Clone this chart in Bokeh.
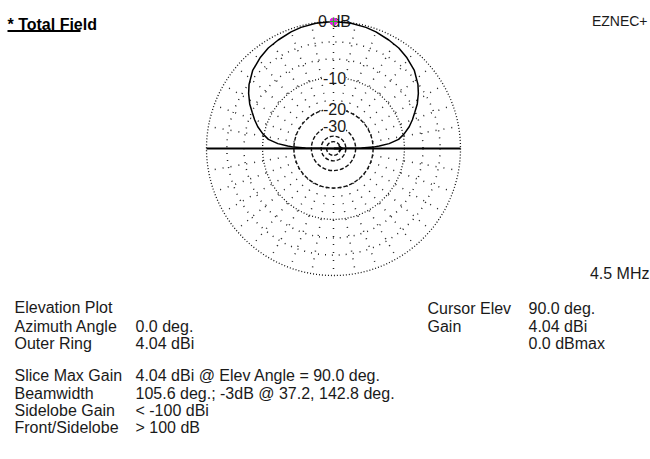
import numpy as np
from bokeh.plotting import figure
from bokeh.models import Range1d
from bokeh.embed import file_html
from bokeh.resources import INLINE
from bokeh.core.properties import value

# ---------------- data ----------------
elev_deg = [0, 1, 2, 3, 5, 8, 12, 16, 20, 24, 28, 33, 37.2, 44, 51, 57, 63, 70, 75, 82, 90,
            98, 105, 110, 117, 123, 129, 136, 142.8, 147, 152, 156, 160, 164, 168, 172, 175, 177, 178, 179, 180]
gain_dbmax = [-99, -26, -20, -17.5, -14.1, -11.3, -9.6, -8.2, -7.1, -6.1, -5.0, -3.9, -3.1, -2.1, -1.45, -1.0, -0.72, -0.4, -0.22, -0.06, 0.0,
              -0.06, -0.22, -0.4, -0.72, -1.0, -1.45, -2.1, -3.1, -3.9, -5.0, -6.1, -7.1, -8.2, -9.6, -11.3, -14.1, -17.5, -20, -26, -99]

ring_db_dotted = [0, -10]
ring_db_sparse = [-3, -6]
ring_db_dashed = [-20, -30, -40, -50]
ring_label_db = [0, -10, -20, -30]
ring_label_text = ["0 dB", "-10", "-20", "-30"]
spoke_deg = list(range(10, 180, 10)) + list(range(190, 360, 10))

cursor_elev = 90.0
cursor_gain_dbmax = 0.0

title_text = "* Total Field"
brand_text = "EZNEC+"
freq_text = "4.5 MHz"

left_labels = ["Elevation Plot", "Azimuth Angle", "Outer Ring",
               "Slice Max Gain", "Beamwidth", "Sidelobe Gain", "Front/Sidelobe"]
left_values = ["", "0.0 deg.", "4.04 dBi",
               "4.04 dBi @ Elev Angle = 90.0 deg.", "105.6 deg.; -3dB @ 37.2, 142.8 deg.",
               "< -100 dBi", "> 100 dB"]
right_labels = ["Cursor Elev", "Gain", ""]
right_values = ["90.0 deg.", "4.04 dBi", "0.0 dBmax"]

# ---------------- layout ----------------
W, H = 650, 459
CX, CY, R = 333, 148, 127
FONT = value("Liberation Sans")
TXT = "#1a1a1a"


def rad_of(db):
    # ARRL log scale: 0.89 per 2 dB
    return R * 0.89 ** (-np.asarray(db, dtype=float) / 2.0)


p = figure(width=W, height=H, x_range=Range1d(0, W), y_range=Range1d(H, 0),
           output_backend="svg", toolbar_location=None, min_border=0,
           x_axis_type=None, y_axis_type=None)
p.grid.visible = False
p.outline_line_color = None
p.background_fill_color = "white"
p.border_fill_color = "white"

# rings
p.circle(x=[CX] * len(ring_db_dotted), y=[CY] * len(ring_db_dotted),
         radius=list(rad_of(ring_db_dotted)), fill_color=None,
         line_color="#111", line_width=1.3, line_dash="1 2")
p.circle(x=[CX] * len(ring_db_sparse), y=[CY] * len(ring_db_sparse),
         radius=list(rad_of(ring_db_sparse)), fill_color=None,
         line_color="#222", line_width=1.5, line_dash="1 6")
p.circle(x=[CX] * len(ring_db_dashed), y=[CY] * len(ring_db_dashed),
         radius=list(rad_of(ring_db_dashed)), fill_color=None,
         line_color="#111", line_width=1.4, line_dash="4 2")

# spokes
r_in = float(rad_of(-20))
sx, sy = [], []
for a in spoke_deg:
    t = np.radians(a)
    sx.append([CX + r_in * np.cos(t), CX + R * np.cos(t)])
    sy.append([CY - r_in * np.sin(t), CY - R * np.sin(t)])
p.multi_line(xs=sx, ys=sy, line_color="#222", line_width=1.5, line_dash="1 7")

# horizon
p.line(x=[CX - R, CX + R], y=[CY, CY], line_color="#000", line_width=2)

# ring labels
lx = [CX + 1] * len(ring_label_db)
ly = [CY - float(rad_of(d)) for d in ring_label_db]
p.text(x=lx, y=ly, text=ring_label_text, text_font=FONT, text_font_size="16px",
       text_align="center", text_baseline="middle", text_color=TXT,
       background_fill_color=[None, "white", "white", "white"])

# pattern
th = np.radians(elev_deg)
rr = rad_of(gain_dbmax)
p.line(x=CX + rr * np.cos(th), y=CY - rr * np.sin(th), line_color="#000", line_width=1.5)

# centre arrow
p.line(x=[CX, CX + 9], y=[CY, CY], line_color="#000", line_width=2)
p.line(x=[CX + 5, CX + 9, CX + 5], y=[CY - 3, CY, CY + 3], line_color="#000", line_width=1.5)

# cursor
ct = np.radians(cursor_elev)
cr = float(rad_of(cursor_gain_dbmax))
p.scatter(x=[CX + cr * np.cos(ct)], y=[CY - cr * np.sin(ct)], size=7, marker="circle",
          fill_color="#e020e0", line_color="#e020e0")
p.scatter(x=[CX + cr * np.cos(ct)], y=[CY - cr * np.sin(ct)], size=8, marker="cross",
          line_color="#20c020", line_width=1.2)

# titles
p.text(x=[7], y=[23.5], text=[title_text], text_font=FONT, text_font_size="16px",
       text_font_style="bold", text_baseline="alphabetic", text_color="#000")
p.line(x=[7, 80], y=[30.5, 30.5], line_color="#000", line_width=2)
p.text(x=[647], y=[20.5], text=[brand_text], text_font=FONT, text_font_size="14px",
       text_align="right", text_baseline="alphabetic", text_color=TXT)
p.text(x=[649], y=[273], text=[freq_text], text_font=FONT, text_font_size="16px",
       text_align="right", text_baseline="alphabetic", text_color=TXT)

# info block
left_y = [307, 325.5, 342.5, 375, 392.5, 410, 427]
p.text(x=[14] * len(left_labels), y=left_y, text=left_labels, text_font=FONT,
       text_font_size="16px", text_baseline="alphabetic", text_color=TXT)
p.text(x=[135] * len(left_values), y=left_y, text=left_values, text_font=FONT,
       text_font_size="16px", text_baseline="alphabetic", text_color=TXT)
right_y = [308, 325.5, 342.5]
p.text(x=[427] * len(right_labels), y=right_y, text=right_labels, text_font=FONT,
       text_font_size="16px", text_baseline="alphabetic", text_color=TXT)
p.text(x=[528] * len(right_values), y=right_y, text=right_values, text_font=FONT,
       text_font_size="16px", text_baseline="alphabetic", text_color=TXT)

open("out.html", "w").write(file_html(p, INLINE))
